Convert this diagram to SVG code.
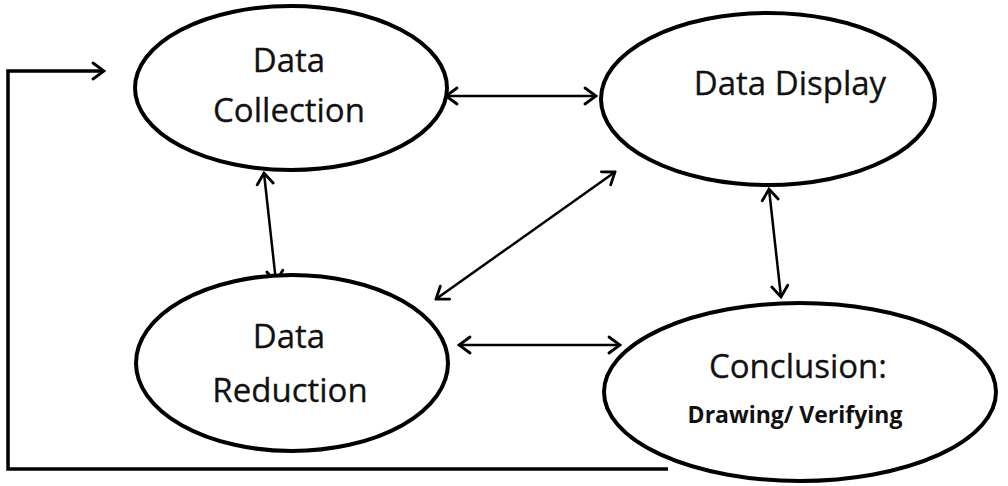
<svg xmlns="http://www.w3.org/2000/svg" width="1008" height="486" viewBox="0 0 1008 486">
<style>
.node{fill:#fff;stroke:#000;stroke-width:4}
.t{font-family:"Open Sans","Noto Sans",sans-serif;font-size:33px;fill:#111;text-anchor:middle;stroke:#111;stroke-width:0.3}
.tb{font-family:"Open Sans","Noto Sans",sans-serif;font-size:23px;font-weight:bold;fill:#111;text-anchor:middle}
.c{fill:none;stroke:#000;stroke-width:2.5}
.loop{fill:none;stroke:#000;stroke-width:3.5}
</style>
<defs>
<marker id="ah" markerUnits="userSpaceOnUse" viewBox="-14 -10 16 20" refX="0" refY="0" markerWidth="16" markerHeight="20" orient="auto-start-reverse">
<path d="M-11,-8 L0,0 L-11,8" fill="none" stroke="#000" stroke-width="2.8" stroke-linecap="round" stroke-linejoin="miter"/>
</marker>
</defs>
<g id="connectors">
<polyline class="loop" points="668,469 8,469 8,71 104,71" marker-end="url(#ah)"/>
<line class="c" x1="446" y1="96" x2="596" y2="96" marker-start="url(#ah)" marker-end="url(#ah)"/>
<line class="c" x1="264" y1="173" x2="276" y2="282" marker-start="url(#ah)" marker-end="url(#ah)"/>
<line class="c" x1="436" y1="299" x2="615" y2="172" marker-start="url(#ah)" marker-end="url(#ah)"/>
<line class="c" x1="459" y1="345" x2="620" y2="345" marker-start="url(#ah)" marker-end="url(#ah)"/>
<line class="c" x1="769" y1="189" x2="781" y2="297" marker-start="url(#ah)" marker-end="url(#ah)"/>
</g>
<g id="data-collection">
<ellipse class="node" cx="291" cy="88" rx="156" ry="82"/>
<text class="t" x="289" y="72">Data</text>
<text class="t" x="289" y="122">Collection</text>
</g>
<g id="data-display">
<ellipse class="node" cx="768" cy="99" rx="167" ry="86"/>
<text class="t" x="790" y="95">Data Display</text>
</g>
<g id="data-reduction">
<ellipse class="node" cx="292" cy="363" rx="156" ry="88"/>
<text class="t" x="289" y="348">Data</text>
<text class="t" x="290" y="402">Reduction</text>
</g>
<g id="conclusion">
<ellipse class="node" cx="800" cy="392" rx="196" ry="89"/>
<text class="t" x="798" y="378">Conclusion:</text>
<text class="tb" x="795" y="423">Drawing/ Verifying</text>
</g>
</svg>
